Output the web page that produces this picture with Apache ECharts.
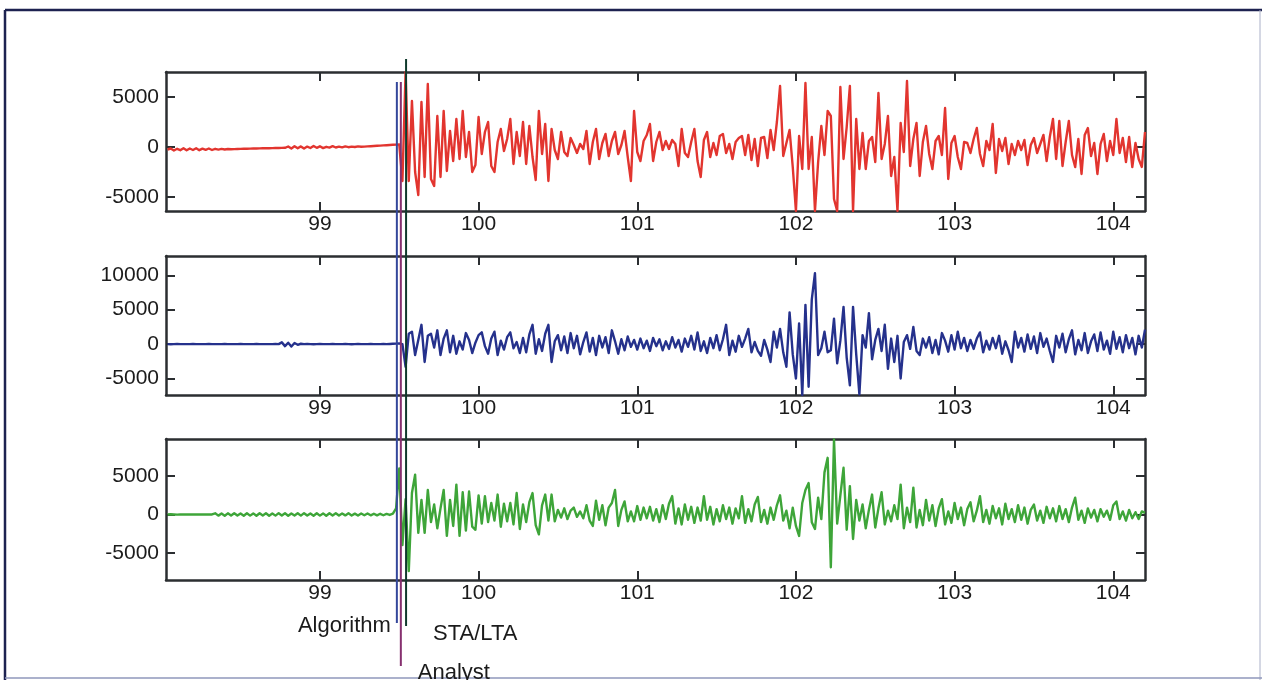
<!DOCTYPE html>
<html>
<head>
<meta charset="utf-8">
<title>Seismogram picks</title>
<script src="https://cdn.jsdelivr.net/npm/echarts@6/dist/echarts.min.js"></script>
<style>
  html, body { margin: 0; padding: 0; background: #ffffff; }
  #chart { width: 1262px; height: 680px; }
</style>
</head>
<body>
<div id="chart"></div>
<script>
// Time axis: samples every DT seconds starting at T0
const T0 = 98.04;
const DT = 0.02;
const xRange = [98.03, 104.2];
const xTickValues = [99, 100, 101, 102, 103, 104];

// Component 1 (red)
const redTrace = [
  -250,-150,-350,-180,-320,-120,-330,-150,-300,-130,
  -320,-170,-280,-150,-300,-180,-260,-190,-250,-200,
  -230,-210,-200,-190,-180,-170,-160,-150,-150,-140,
  -130,-130,-120,-110,-100,-100,-90,-80,50,-150,
  80,-120,60,-160,40,-100,100,-80,70,-110,
  20,-60,80,-50,30,-40,60,-20,40,0,
  60,20,40,60,80,100,120,140,160,180,
  200,220,240,250,-3400,7500,-3400,4600,-2500,-4800,
  4500,-3000,6300,-3200,-3900,3100,-3000,3600,-2400,1600,
  -1400,2800,-1200,3600,-1000,1500,-2500,-1800,3000,-700,
  1500,2500,-1900,-2500,500,1800,-400,800,2800,-1700,
  1500,-900,2500,-1700,2100,-1000,-3300,3600,-700,2300,
  -3400,1800,-300,-1200,1500,-500,-900,900,200,-600,
  300,-200,1600,-1700,500,1800,-1200,400,1300,-900,
  600,1500,-700,200,1600,-1000,-3400,3600,-500,-1400,
  600,1200,2300,-1400,500,1500,-300,600,-200,700,
  300,-1900,1800,-600,-1000,500,1800,-1400,-3000,700,
  1500,-1000,400,-800,1100,1300,-600,300,-1200,500,
  900,1100,-800,1200,-1300,800,-1900,900,1000,-1100,
  1700,-300,2500,6100,-900,400,1700,-2000,-6400,1100,
  -2200,6400,-2200,1000,-6400,-1500,2100,-800,3600,3100,
  -5200,-6400,6000,-1200,2000,6100,-6400,2800,-2200,1400,
  -2200,600,1000,-1500,5400,-1200,300,3100,-2900,-1000,
  -6400,2400,-500,6600,-1900,800,2400,-2900,500,2100,
  -700,-2200,600,1100,-800,3900,-3200,400,1100,-1000,
  -2200,500,400,-600,800,1900,-700,-1900,600,-300,
  2300,-2600,800,-400,900,-1700,300,-800,600,-300,
  700,-1800,200,900,-600,300,1200,-1400,1000,2800,
  -1200,2600,-1900,500,2600,-800,-2000,800,-2700,1200,
  1900,-900,400,-2700,300,1300,-1400,600,-800,2800,
  -600,900,-1500,1000,-2000,400,-1200,-2000,1500
];

// Component 2 (blue)
const blueTrace = [
  0,-20,0,10,0,-10,0,0,10,0,
  -10,0,0,10,0,-10,0,0,10,0,
  0,-10,0,10,0,0,-10,0,10,0,
  0,-10,0,0,10,0,250,-300,200,-350,
  150,-100,50,0,20,0,-20,0,10,0,
  -10,0,10,0,-10,0,20,0,-20,0,
  10,0,-10,0,10,0,-10,0,10,0,
  20,40,60,80,0,-3300,1500,1800,-1600,600,
  2800,-2600,1200,1500,-500,2000,-1600,800,2000,-1200,
  1200,-1400,400,-800,1600,600,-1300,200,1300,1700,
  -300,-1400,800,1800,-1600,500,-800,1000,1700,-600,
  300,-1300,900,-1200,1400,2800,-1400,700,-1000,1500,
  2800,-2600,400,1300,-900,1100,-1300,1600,-600,1200,
  -1500,300,1700,-1100,900,-1600,1200,-500,1000,-1300,
  2000,400,-1400,700,-900,1100,-400,600,-800,800,
  -600,500,-1000,900,-300,700,-900,400,-700,1000,
  -500,600,-1100,800,-400,1200,-800,1700,-1000,400,
  -1300,900,-600,1300,-900,700,2800,-1600,500,-1100,
  1200,-400,800,2200,-1200,300,-1000,-1700,600,-800,
  -2600,1800,-500,2200,-1200,-3300,4600,-1500,-5000,3000,
  -7400,5700,-6200,6500,10300,-1600,-600,1800,-1200,-900,
  3700,-2800,500,5400,-2000,-6000,5400,-1500,-7300,1300,
  -500,4500,-2200,600,2200,-1000,2800,-3600,800,-2600,
  1200,-5000,300,1300,-700,2500,-1000,-1600,800,-500,
  1000,-1300,600,-1500,1600,500,-1100,1300,-800,1800,
  -600,900,-1000,600,-700,800,1700,-1200,500,-800,
  900,-600,1200,-1400,400,-900,-2600,1800,-500,900,
  -1100,1400,-700,1100,-1300,1600,-400,800,-1000,-2600,
  1200,-500,1500,-1200,700,2000,-1500,600,-900,1600,
  -1300,400,1400,-1000,1700,-800,500,-1400,1800,-700,
  1000,-1200,1300,-600,900,-1500,1200,-500,2100
];

// Component 3 (green)
const greenTrace = [
  0,20,0,-20,0,10,0,-10,0,0,
  10,0,-10,0,0,150,-150,120,-170,150,
  -130,170,-140,130,-160,150,-150,140,-170,160,
  -130,150,-160,130,-150,170,-140,150,-160,140,
  -130,160,-150,170,-140,130,-160,150,-150,140,
  -170,160,-130,150,-140,130,-120,150,-130,110,
  -140,120,-100,130,-110,100,-120,90,-100,80,
  -60,100,800,6000,-4000,2000,-7400,2800,5200,-2400,
  1900,-2400,3200,-1000,1300,-1800,800,3200,-2800,1900,
  -1500,3900,-2800,2900,-2100,3000,-1600,-2000,2500,-1200,
  2400,-1000,1500,-800,2600,-1600,1400,-900,1500,-1300,
  2800,-1900,1300,-1000,1600,2800,-1400,-2600,1200,2600,
  -800,2600,-900,600,-400,800,-600,500,900,-300,
  400,-500,1200,-800,-1500,1800,-700,1200,-1400,900,
  1500,3200,-1500,600,1700,-900,400,-900,1100,-700,
  900,-500,1000,-800,700,-1000,1200,-600,1400,2400,
  -1200,800,-1300,1300,-700,1000,-1100,900,-800,2400,
  -700,1000,-1300,700,-900,1200,-600,900,-1200,800,
  -500,2400,-1100,700,-900,1300,2300,-1000,600,-1200,
  900,-700,1200,2500,-800,500,-1800,900,-1500,-2800,
  1500,3200,4100,-1000,-1900,2200,-600,5500,7400,-6900,
  9800,-1200,2500,6100,-2000,3700,-3200,1900,-800,1300,
  -1800,600,2600,-1700,800,2900,-1300,500,-900,1200,
  -600,3900,-1800,900,-1000,3500,-1700,600,-1400,1900,
  -800,1200,-1500,800,2000,-1300,400,-1100,1500,-600,
  900,-1400,700,1600,-900,500,2400,-1000,600,-1200,
  1100,-500,800,-1300,1400,-600,700,-1000,1200,-700,
  900,-1200,600,1300,-800,500,-1100,1000,-500,800,
  -900,1100,-600,700,-1000,900,2200,-700,500,-1100,
  800,-400,600,-900,700,-300,500,-700,1200,1700,
  -600,400,-800,600,-500,300,-600,400,200
];

// Amplitude ranges and labelled ticks for each panel
const yRanges = [[-6400, 7500], [-7400, 12800], [-8560, 9860]];
const yTickValues = [[-5000, 0, 5000], [-5000, 0, 5000, 10000], [-5000, 0, 5000]];

// Onset picks (seconds)
const pickNames = ['Algorithm', 'Analyst', 'STA/LTA'];
const pickTimes = [99.485, 99.51, 99.543];

const traces = [redTrace, blueTrace, greenTrace];
const traceColors = ['#e2352f', '#25318c', '#3ea539'];

const FONT = '"Liberation Sans", Arial, Helvetica, sans-serif';
const AXIS_COLOR = '#2b2e31';
const plainNumber = v => String(v);

const gridBoxes = [
  { top: 72, height: 139 },
  { top: 256, height: 139 },
  { top: 439, height: 141 }
];

const chart = echarts.init(document.getElementById('chart'), null, { renderer: 'canvas' });

const grids = [], xAxes = [], yAxes = [], series = [];
gridBoxes.forEach((g, k) => {
  grids.push({ left: 166, width: 979, top: g.top, height: g.height, containLabel: false });
  const xCommon = {
    type: 'value', gridIndex: k, min: xRange[0], max: xRange[1],
    axisLine: { show: true, onZero: false, lineStyle: { color: AXIS_COLOR, width: 2.5 } },
    axisTick: { show: true, inside: true, length: 9, customValues: xTickValues,
                lineStyle: { color: AXIS_COLOR, width: 2 } },
    splitLine: { show: false }
  };
  xAxes.push(Object.assign({}, xCommon, {
    position: 'bottom',
    axisLabel: { show: true, customValues: xTickValues, margin: 3, formatter: plainNumber,
                 fontSize: 21, fontFamily: FONT, color: '#1b1b1b' }
  }));
  xAxes.push(Object.assign({}, xCommon, { position: 'top', axisLabel: { show: false } }));
  const yCommon = {
    type: 'value', gridIndex: k, min: yRanges[k][0], max: yRanges[k][1],
    axisLine: { show: true, onZero: false, lineStyle: { color: AXIS_COLOR, width: 2.5 } },
    axisTick: { show: true, inside: true, length: 9, customValues: yTickValues[k],
                lineStyle: { color: AXIS_COLOR, width: 2 } },
    splitLine: { show: false }
  };
  yAxes.push(Object.assign({}, yCommon, {
    position: 'left',
    axisLabel: { show: true, customValues: yTickValues[k], margin: 7, formatter: plainNumber,
                 fontSize: 21, fontFamily: FONT, color: '#1b1b1b' }
  }));
  yAxes.push(Object.assign({}, yCommon, { position: 'right', axisLabel: { show: false } }));

  series.push({
    type: 'line',
    xAxisIndex: 2 * k,
    yAxisIndex: 2 * k,
    data: traces[k].map((v, i) => [T0 + i * DT, v]),
    showSymbol: false,
    symbol: 'none',
    sampling: false,
    clip: true,
    lineStyle: { color: traceColors[k], width: 2.4, join: 'round' },
    z: 2
  });
});

chart.setOption({
  animation: false,
  backgroundColor: '#ffffff',
  grid: grids,
  xAxis: xAxes,
  yAxis: yAxes,
  series: series
});

// Pick markers and frame, positioned through the time axis
const pickColors = ['#34479b', '#86306f', '#0f3a2c'];
const pickSpans = [[82, 623], [82, 666], [59, 626]];
const pickLabelStyle = [
  { dx: -6, y: 626, align: 'right' },
  { dx: 17, y: 673, align: 'left' },
  { dx: 27, y: 634, align: 'left' }
];

const graphics = [
  { type: 'line', shape: { x1: 5, y1: 10, x2: 1262, y2: 10 }, style: { stroke: '#1d2250', lineWidth: 2.5 }, z: 10 },
  { type: 'line', shape: { x1: 5, y1: 10, x2: 5, y2: 680 }, style: { stroke: '#1d2250', lineWidth: 2.5 }, z: 10 },
  { type: 'line', shape: { x1: 1260, y1: 10, x2: 1260, y2: 680 }, style: { stroke: '#aab0c8', lineWidth: 1 }, z: 10 },
  { type: 'line', shape: { x1: 5, y1: 678, x2: 1262, y2: 678 }, style: { stroke: '#8f97bb', lineWidth: 1.5 }, z: 10 }
];

pickTimes.forEach((t, k) => {
  const x = chart.convertToPixel({ xAxisIndex: 0 }, t);
  graphics.push({
    type: 'line',
    shape: { x1: x, y1: pickSpans[k][0], x2: x, y2: pickSpans[k][1] },
    style: { stroke: pickColors[k], lineWidth: 2 },
    z: 20
  });
  const ls = pickLabelStyle[k];
  graphics.push({
    type: 'text',
    x: x + ls.dx,
    y: ls.y,
    style: {
      text: pickNames[k],
      fontSize: 22,
      fontFamily: FONT,
      fill: '#1b1b1b',
      align: ls.align,
      verticalAlign: 'middle'
    },
    z: 20
  });
});

chart.setOption({ graphic: graphics });
</script>
</body>
</html>
